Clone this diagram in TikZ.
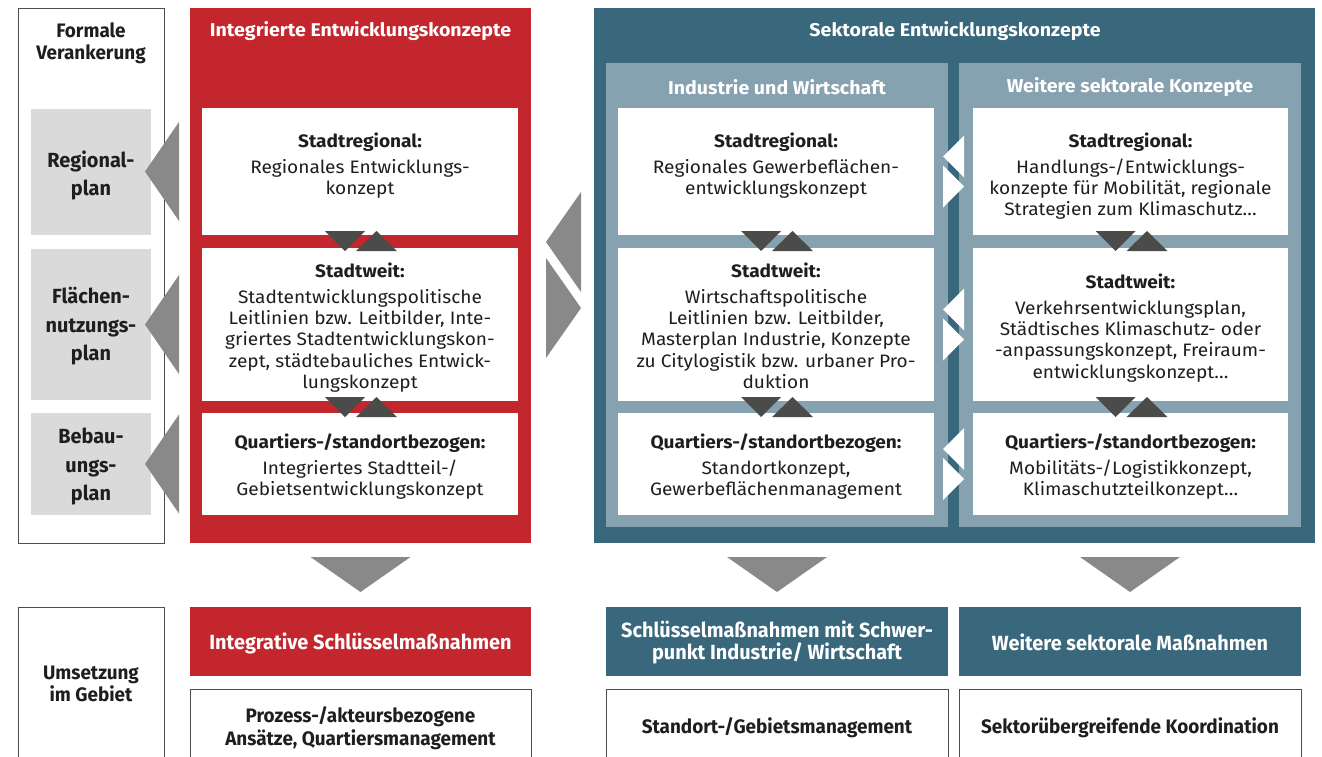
\documentclass[tikz,border=0pt]{standalone}
\usepackage{fontspec}
\setmainfont{Fira Sans}[FakeStretch=1.06]
\newfontfamily\condfont{Fira Sans}[FakeStretch=0.97]
\usetikzlibrary{calc}

\definecolor{ired}{HTML}{C4262D}
\definecolor{tdark}{HTML}{39677C}
\definecolor{tlight}{HTML}{86A2B0}
\definecolor{gbox}{HTML}{DADADA}
\definecolor{garr}{HTML}{898989}
\definecolor{dtri}{HTML}{4B4B49}
\definecolor{ink}{HTML}{1E1E1E}
\definecolor{frame}{HTML}{4D4D4D}

% rectangular area given by its corners (x1,y1) and (x2,y2)
\newcommand\areabox[6]{%
  \node[area,#6,minimum width={(#4)-(#2)},minimum height={(#5)-(#3)}] (#1) at (#2,#3) {};}

% pair of small down/up triangles below the south side of a box
\newcommand\updown[1]{%
  \fill[dtri] ($(#1.south)+(-35,-4)$) -- ($(#1.south)+(5,-4)$) -- ($(#1.south)+(-15,16)$) -- cycle;
  \fill[dtri] ($(#1.south)+(-4,16)$) -- ($(#1.south)+(37,16)$) -- ($(#1.south)+(16.5,-4)$) -- cycle;}

% pair of white left/right triangles right of the east side of a box
\newcommand\leftright[1]{%
  \fill[white] ($(#1.east)+(9,-15)$) -- ($(#1.east)+(30,-36)$) -- ($(#1.east)+(30,6)$) -- cycle;
  \fill[white] ($(#1.east)+(9,-6)$) -- ($(#1.east)+(9,36)$) -- ($(#1.east)+(30,15)$) -- cycle;}

% large gray arrow pointing left from a box to the plan boxes
\newcommand\toplan[1]{%
  \fill[garr] ($(#1.west)+(-57,0)$) -- ($(#1.west)+(-23,-49.5)$) -- ($(#1.west)+(-23,49.5)$) -- cycle;}

% large gray arrow pointing down onto a box
\newcommand\downto[1]{%
  \fill[garr] ($(#1.north)+(-50,-50)$) -- ($(#1.north)+(50,-50)$) -- ($(#1.north)+(0,-15)$) -- cycle;}

\begin{document}
\begin{tikzpicture}[x=1pt,y=-1pt,
  area/.style={anchor=north west, inner sep=0, outer sep=0},
  txt/.style={anchor=north, inner sep=0, align=center, text=ink,
    font=\fontsize{18}{21.3}\selectfont},
  title/.style={inner sep=0, align=center, text=white,
    font=\bfseries\fontsize{18.5}{22}\selectfont},
  ctitle/.style={inner sep=0, align=center, text=white,
    font=\condfont\bfseries\fontsize{20.5}{22.5}\selectfont},
  ctext/.style={inner sep=0, align=center, text=ink,
    font=\condfont\bfseries\fontsize{19.5}{22.5}\selectfont},
  plan/.style={inner sep=0, align=center, text=ink,
    font=\condfont\bfseries\fontsize{20.5}{28.5}\selectfont},
  framed/.style={draw=frame, line width=1pt, fill=white},
]
\useasboundingbox (0,0) rectangle (1322,756);

% ---------- formal anchoring column ----------
\areabox{formal}{18}{8}{164}{543}{framed}
\areabox{rp}{31}{109}{151}{235}{fill=gbox}
\areabox{fnp}{31}{249}{151}{400}{fill=gbox}
\areabox{bp}{31}{413}{151}{515}{fill=gbox}
\node[ctext, anchor=center] (formalt) at (91,43.5) {Formale\\Verankerung};
\node[plan] (rpt) at (91,175.5) {Regional-\\plan};
\node[plan] (fnpt) at (91,326.5) {Flächen-\\nutzungs-\\plan};
\node[plan] (bpt) at (91,466.5) {Bebau-\\ungs-\\plan};

% ---------- integrated concepts ----------
\areabox{red}{190}{8}{531}{543}{fill=ired}
\node[title] (redt) at (360.5,31) {Integrierte Entwicklungskonzepte};
\areabox{r1}{202}{108}{518}{235}{fill=white}
\areabox{r2}{202}{248}{518}{401}{fill=white}
\areabox{r3}{202}{413}{518}{515}{fill=white}
\node[txt] (r1t) at (360,132.5) {\textbf{Stadtregional:}\\[4.5pt]Regionales Entwicklungs-\\konzept};
\node[txt] (r2t) at (360,262.5) {\textbf{Stadtweit:}\\[4.5pt]Stadtentwicklungspolitische\\Leitlinien bzw. Leitbilder, Inte-\\griertes Stadtentwicklungskon-\\zept, städtebauliches Entwick-\\lungskonzept};
\node[txt] (r3t) at (360,433.5) {\textbf{Quartiers-/standortbezogen:}\\[4.5pt]Integriertes Stadtteil-/\\Gebietsentwicklungskonzept};
\updown{r1}
\updown{r2}
\toplan{r1}
\toplan{r2}
\toplan{r3}

% ---------- exchange between integrated and sectoral concepts ----------
\fill[garr] ($(red.east)+(15,-33.5)$) -- ($(red.east)+(50,-83.5)$) -- ($(red.east)+(50,16.5)$) -- cycle;
\fill[garr] ($(red.east)+(15,-17.5)$) -- ($(red.east)+(15,82.5)$) -- ($(red.east)+(50,32.5)$) -- cycle;

% ---------- sectoral concepts ----------
\areabox{blue}{594}{8}{1315}{543}{fill=tdark}
\node[title] (bluet) at (955,31) {Sektorale Entwicklungskonzepte};
\areabox{colI}{606}{63}{948}{527}{fill=tlight}
\areabox{colW}{959}{63}{1301}{527}{fill=tlight}
\node[title] (colIt) at (777,87) {Industrie und Wirtschaft};
\node[title] (colWt) at (1130,87) {Weitere sektorale Konzepte};

\areabox{i1}{618}{108}{934}{235}{fill=white}
\areabox{i2}{618}{248}{934}{401}{fill=white}
\areabox{i3}{618}{413}{934}{515}{fill=white}
\node[txt] (i1t) at (776,132.5) {\textbf{Stadtregional:}\\[4.5pt]Regionales Gewerbeflächen-\\entwicklungskonzept};
\node[txt] (i2t) at (776,262.5) {\textbf{Stadtweit:}\\[4.5pt]Wirtschaftspolitische\\Leitlinien bzw. Leitbilder,\\Masterplan Industrie, Konzepte\\zu Citylogistik bzw. urbaner Pro-\\duktion};
\node[txt] (i3t) at (776,433.5) {\textbf{Quartiers-/standortbezogen:}\\[4.5pt]Standortkonzept,\\Gewerbeflächenmanagement};
\updown{i1}
\updown{i2}

\areabox{w1}{973}{108}{1288}{235}{fill=white}
\areabox{w2}{973}{248}{1288}{401}{fill=white}
\areabox{w3}{973}{413}{1288}{515}{fill=white}
\node[txt] (w1t) at (1130.5,132.5) {\textbf{Stadtregional:}\\[4.5pt]Handlungs-/Entwicklungs-\\konzepte für Mobilität, regionale\\Strategien zum Klimaschutz…};
\node[txt] (w2t) at (1130.5,273.5) {\textbf{Stadtweit:}\\[4.5pt]Verkehrsentwicklungsplan,\\Städtisches Klimaschutz- oder\\-anpassungskonzept, Freiraum-\\entwicklungskonzept…};
\node[txt] (w3t) at (1130.5,433.5) {\textbf{Quartiers-/standortbezogen:}\\[4.5pt]Mobilitäts-/Logistikkonzept,\\Klimaschutzteilkonzept…};
\updown{w1}
\updown{w2}

\leftright{i1}
\leftright{i2}
\leftright{i3}

% ---------- implementation in the area ----------
\areabox{ums}{18}{607}{164}{780}{framed}
\node[ctext, anchor=center] (umst) at (91,684) {Umsetzung\\im Gebiet};

\areabox{rk}{190}{607}{531}{676}{fill=ired}
\node[ctitle] (rkt) at ($(rk)+(0,1.5)$) {Integrative Schlüsselmaßnahmen};
\areabox{rm}{190}{689}{531}{780}{framed}
\node[ctext] (rmt) at (360.5,728) {Prozess-/akteursbezogene\\Ansätze, Quartiersmanagement};

\areabox{ik}{606}{607}{948}{676}{fill=tdark}
\node[ctitle] (ikt) at ($(ik)+(0,1)$) {Schlüsselmaßnahmen mit Schwer-\\punkt Industrie/ Wirtschaft};
\areabox{im}{606}{689}{948}{780}{framed}
\node[ctext] (imt) at (777,727.5) {Standort-/Gebietsmanagement};

\areabox{wk}{959}{607}{1301}{676}{fill=tdark}
\node[ctitle] (wkt) at ($(wk)+(0,1)$) {Weitere sektorale Maßnahmen};
\areabox{wm}{959}{689}{1301}{780}{framed}
\node[ctext] (wmt) at (1130,727.5) {Sektorübergreifende Koordination};

\downto{rk}
\downto{ik}
\downto{wk}
\end{tikzpicture}
\end{document}
